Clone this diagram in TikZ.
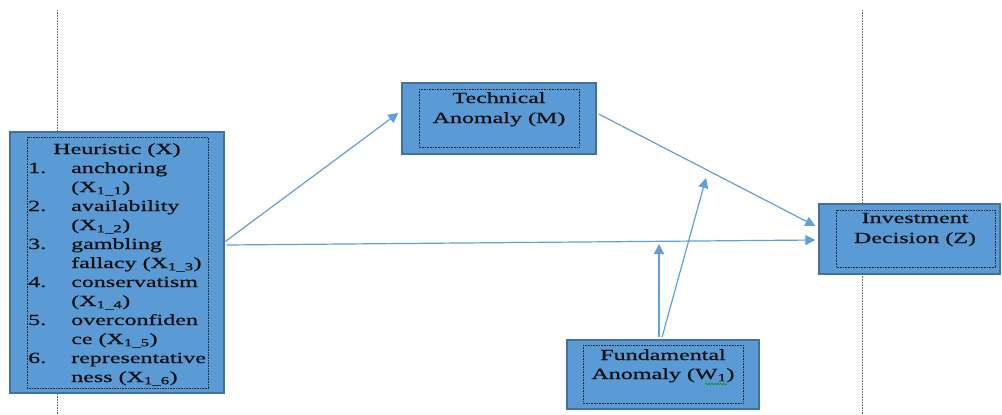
\documentclass[tikz,border=0pt]{standalone}
\usepackage{fontspec}
\setmainfont{Liberation Serif}[FakeStretch=1.55,FakeBold=0.6]
\usetikzlibrary{arrows.meta,decorations.pathmorphing}
\definecolor{boxfill}{RGB}{91,155,213}
\definecolor{boxedge}{RGB}{65,113,156}
\definecolor{arrowc}{RGB}{98,160,216}
\definecolor{txt}{RGB}{15,15,15}
\begin{document}
\begin{tikzpicture}[x=1pt,y=-1pt,
  outerbox/.style={draw=boxedge, fill=boxfill, line width=1.3pt, inner sep=0, rectangle},
  innerbox/.style={draw=black!85, line width=0.9pt, dash pattern=on 0.8pt off 0.8pt},
  lbl/.style={anchor=base, inner sep=0, text=txt, font=\fontsize{15.5}{19}\selectfont},
  lblw/.style={lbl, anchor=base west},
  conn/.style={draw=arrowc, line width=1.2pt, -{Triangle[length=10pt,width=10pt]}},
  guide/.style={draw=black!60, line width=1pt, dash pattern=on 0.8pt off 0.8pt}]
\useasboundingbox (0,0) rectangle (1002,415);

% guide lines
\draw[guide] (57,10) -- (57,415);
\draw[guide] (862,10) -- (862,415);

% boxes
\node[outerbox, minimum width=214pt, minimum height=261pt] (heur) at (117,262.5) {};
\node[outerbox, minimum width=194pt, minimum height=71pt] (tech) at (499,118.5) {};
\node[outerbox, minimum width=181pt, minimum height=70pt] (inv) at (909.5,239) {};
\node[outerbox, minimum width=192pt, minimum height=69pt] (fund) at (663,374.5) {};

\draw[innerbox] (27,137) rectangle (208,388);
\draw[innerbox] (419,89) rectangle (579,147);
\draw[innerbox] (836,210) rectangle (995,267);
\draw[innerbox] (583,345) rectangle (743,403);

% heuristic text
\node[lbl] (h0) at (117,154) {Heuristic (X)};
\foreach \n/\i/\t in {1./1/anchoring, /2/(X\textsubscript{1\_1}), 2./3/availability, /4/(X\textsubscript{1\_2}), 3./5/gambling, /6/fallacy (X\textsubscript{1\_3}), 4./7/conservatism, /8/(X\textsubscript{1\_4}), 5./9/overconfiden, /10/ce (X\textsubscript{1\_5}), 6./11/representative, /12/ness (X\textsubscript{1\_6})} {
  \node[lblw] (hn\i) at (28,154+19*\i) {\n};
  \node[lblw] (ht\i) at (71,154+19*\i) {\t};
}

% other labels
\node[lbl] (t1) at (499,103) {Technical};
\node[lbl] (t2) at (499,123) {Anomaly (M)};
\node[lbl] (i1) at (915,223) {Investment};
\node[lbl] (i2) at (915,243) {Decision (Z)};
\node[lbl] (f1) at (663,360) {Fundamental};
\node[lbl] (f2) at (663,379) {Anomaly (W\textsubscript{1})};
\draw[green!60!black, line width=0.6pt, decorate, decoration={snake, amplitude=0.8pt, segment length=3pt}] (705,384) -- (727,384);

% connectors
\coordinate (mT) at (706,178);
\coordinate (mH) at (659,244);
\draw[conn] ([yshift=20.5pt]heur.east) -- ([xshift=-3pt,yshift=5.5pt]tech.west);
\draw[conn] ([xshift=2pt,yshift=17.5pt]heur.east) -- ([xshift=-3pt,yshift=-1pt]inv.west);
\draw[conn] ([xshift=2pt,yshift=4.5pt]tech.east) -- ([xshift=-3pt,yshift=13pt]inv.west);
\draw[conn] ([xshift=-1pt,yshift=2pt]fund.north) -- (mT);
\draw[conn] ([xshift=-4pt,yshift=2pt]fund.north) -- (mH);
\end{tikzpicture}
\end{document}
